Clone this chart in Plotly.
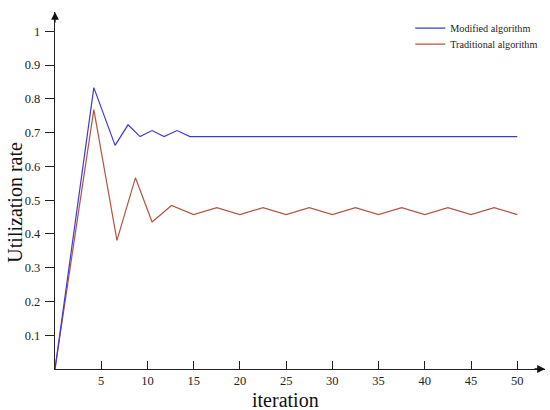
import plotly.graph_objects as go

# Data
mod_x = [0, 4.2, 6.5, 7.9, 9.2, 10.5, 11.8, 13.2, 14.6, 50]
mod_y = [0.0, 0.833, 0.662, 0.723, 0.688, 0.706, 0.688, 0.706, 0.688, 0.688]

trad_x = [0, 4.2, 6.7, 8.7, 10.5, 12.6, 15, 17.5, 20, 22.5, 25, 27.5, 30, 32.5,
          35, 37.5, 40, 42.5, 45, 47.5, 50]
trad_y = [0.0, 0.768, 0.381, 0.566, 0.435, 0.484, 0.457, 0.478, 0.457, 0.478,
          0.457, 0.478, 0.457, 0.478, 0.457, 0.478, 0.457, 0.478, 0.457, 0.478, 0.457]

x_ticks = [5, 10, 15, 20, 25, 30, 35, 40, 45, 50]
y_ticks = [0.1, 0.2, 0.3, 0.4, 0.5, 0.6, 0.7, 0.8, 0.9, 1.0]
y_tick_text = ["0.1", "0.2", "0.3", "0.4", "0.5", "0.6", "0.7", "0.8", "0.9", "1"]

x_title = "iteration"
y_title = "Utilization rate"

SERIF = "Liberation Serif"

fig = go.Figure()
fig.add_trace(go.Scatter(x=trad_x, y=trad_y, mode="lines", name="Traditional algorithm",
                         line=dict(color="#b5533c", width=1.2), legend="legend2"))
fig.add_trace(go.Scatter(x=mod_x, y=mod_y, mode="lines", name="Modified algorithm",
                         line=dict(color="#3d3ad6", width=1.2), legend="legend"))

legend_style = dict(xanchor="left", yanchor="middle",
                    font=dict(family=SERIF, size=10.2, color="#222222"),
                    bgcolor="rgba(0,0,0,0)", itemwidth=30, borderwidth=0)

fig.update_layout(
    width=550, height=410,
    margin=dict(l=55, r=5, t=12, b=41, autoexpand=False),
    paper_bgcolor="white", plot_bgcolor="white",
    font=dict(family=SERIF, color="#222222"),
    showlegend=True,
    legend=dict(x=0.725, y=0.955, **legend_style),
    legend2=dict(x=0.725, y=0.910, **legend_style),
    xaxis=dict(range=[0, 53], tickvals=x_ticks, ticks="inside", ticklen=8,
               tickcolor="#222222", tickwidth=1, showline=True, linecolor="#222222",
               linewidth=1.3, showgrid=False, zeroline=False, automargin=False,
               tickfont=dict(family=SERIF, size=12.5, color="#222222")),
    yaxis=dict(range=[0, 1.057], tickvals=y_ticks, ticktext=y_tick_text, ticks="outside",
               ticklen=9, tickcolor="#222222", tickwidth=1, showline=True,
               linecolor="#222222", linewidth=1.3, showgrid=False, zeroline=False,
               automargin=False, ticklabelstandoff=2,
               tickfont=dict(family=SERIF, size=12.5, color="#222222")),
    annotations=[
        dict(x=1, y=0, xref="paper", yref="paper", ax=-12, ay=0, showarrow=True,
             arrowhead=2, arrowsize=1.2, arrowwidth=1.3, arrowcolor="#111111", text=""),
        dict(x=0, y=1, xref="paper", yref="paper", ax=0, ay=12, showarrow=True,
             arrowhead=2, arrowsize=1.2, arrowwidth=1.3, arrowcolor="#111111", text=""),
        dict(x=0.470, y=-0.087, xref="paper", yref="paper", showarrow=False,
             text=x_title, xanchor="center", yanchor="middle",
             font=dict(family=SERIF, size=20, color="#111111")),
        dict(x=-0.0816, y=0.466, xref="paper", yref="paper", showarrow=False,
             text=y_title, textangle=-90, xanchor="center", yanchor="middle",
             font=dict(family=SERIF, size=20, color="#111111")),
    ],
)

# Remove the default page margin so the 550x410 figure fills the window exactly.
fig.write_html("out.html", config={"displayModeBar": False},
               post_script="document.body.style.margin='0px';")
